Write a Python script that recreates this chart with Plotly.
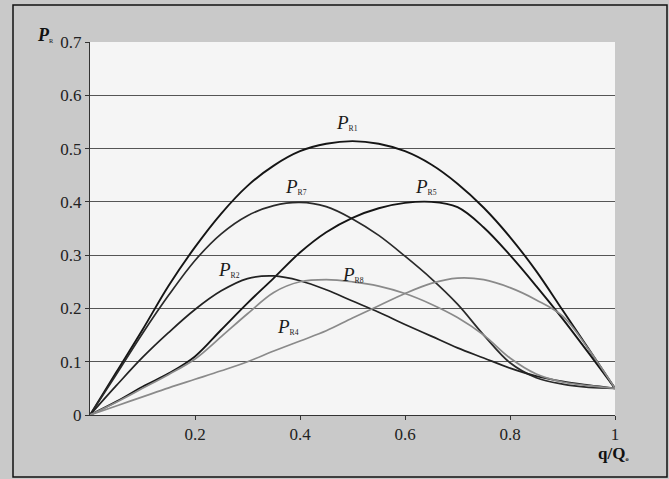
import plotly.graph_objects as go

q = [0.0, 0.05, 0.1, 0.15, 0.2, 0.25, 0.3, 0.35, 0.4, 0.45, 0.5, 0.55,
     0.6, 0.65, 0.7, 0.75, 0.8, 0.85, 0.9, 0.95, 1.0]

P_R1 = [0.0, 0.08, 0.16, 0.243, 0.315, 0.378, 0.43, 0.468, 0.495, 0.509, 0.514, 0.509,
        0.495, 0.47, 0.434, 0.389, 0.334, 0.27, 0.197, 0.124, 0.05]
P_R7 = [0.0, 0.076, 0.153, 0.225, 0.29, 0.34, 0.374, 0.393, 0.399, 0.391, 0.368, 0.337,
        0.298, 0.256, 0.208, 0.15, 0.098, 0.07, 0.058, 0.052, 0.05]
P_R5 = [0.0, 0.025, 0.053, 0.078, 0.11, 0.16, 0.21, 0.257, 0.305, 0.343, 0.37, 0.388,
        0.398, 0.4, 0.39, 0.352, 0.3, 0.242, 0.181, 0.116, 0.05]
P_R2 = [0.0, 0.055, 0.108, 0.155, 0.198, 0.233, 0.256, 0.261, 0.252, 0.235, 0.214, 0.193,
        0.17, 0.148, 0.126, 0.107, 0.088, 0.073, 0.063, 0.056, 0.05]
P_R8 = [0.0, 0.024, 0.05, 0.076, 0.105, 0.147, 0.19, 0.23, 0.25, 0.254, 0.25, 0.242,
        0.228, 0.208, 0.183, 0.15, 0.107, 0.077, 0.062, 0.055, 0.05]
P_R4 = [0.0, 0.017, 0.034, 0.051, 0.067, 0.083, 0.1, 0.12, 0.139, 0.158, 0.182, 0.205,
        0.228, 0.247, 0.257, 0.254, 0.239, 0.216, 0.186, 0.123, 0.05]

series = [("R1", P_R1, "#151515", 1.9), ("R7", P_R7, "#2a2a2a", 1.7),
          ("R5", P_R5, "#151515", 1.9), ("R2", P_R2, "#222222", 1.7),
          ("R8", P_R8, "#8a8a8a", 1.7), ("R4", P_R4, "#8a8a8a", 1.7)]

label_pos = {"R1": (0.49, 0.548), "R7": (0.392, 0.428), "R5": (0.64, 0.428),
             "R2": (0.265, 0.274), "R8": (0.5, 0.264), "R4": (0.377, 0.167)}

x_ticks = [0.2, 0.4, 0.6, 0.8, 1.0]
x_tick_text = ["0.2", "0.4", "0.6", "0.8", "1"]
y_ticks = [0, 0.1, 0.2, 0.3, 0.4, 0.5, 0.6, 0.7]
y_tick_text = ["0", "0.1", "0.2", "0.3", "0.4", "0.5", "0.6", "0.7"]

serif = "Liberation Serif, Times New Roman, serif"

fig = go.Figure()
for name, vals, col, w in series:
    fig.add_trace(go.Scatter(x=q, y=vals, mode="lines", name=name,
                             line=dict(color=col, width=w, shape="spline", smoothing=1.0),
                             showlegend=False, hoverinfo="skip"))

annotations = []
for name, (ax, ay) in label_pos.items():
    annotations.append(dict(
        x=ax, y=ay, xref="x", yref="y", showarrow=False,
        text='<i>P</i><span style="font-size:11px"><sub>%s</sub></span>' % name,
        font=dict(family=serif, size=19, color="#1a1a1a")))

annotations.append(dict(x=(35 - 90) / 525, y=(415 - 23) / 373, xref="paper", yref="paper",
                        showarrow=False,
                        text='<b><i>P</i></b><span style="font-size:9px"><sub>R</sub></span>',
                        font=dict(family=serif, size=18, color="#111111")))
annotations.append(dict(x=(631 - 90) / 525, y=(415 - 465) / 373, xref="paper", yref="paper",
                        showarrow=False,
                        text='<b>q/Q</b><span style="font-size:9px"><sub><b>o</b></sub></span>',
                        font=dict(family=serif, size=17, color="#111111")))

frame = dict(type="rect", xref="paper", yref="paper",
             x0=(13 - 90) / 525, x1=(667 - 90) / 525,
             y0=(415 - 477) / 373, y1=(415 - 5) / 373,
             line=dict(color="#111111", width=1.5), fillcolor="rgba(0,0,0,0)", layer="below")

fig.update_layout(
    width=669, height=479,
    margin=dict(l=90, r=54, t=42, b=64),
    paper_bgcolor="#c9c9c9",
    plot_bgcolor="#f5f5f5",
    annotations=annotations,
    shapes=[frame],
    xaxis=dict(range=[0, 1], tickvals=x_ticks, ticktext=x_tick_text,
               showgrid=False, zeroline=False, showline=True, linecolor="#333333",
               linewidth=1, ticks="outside", ticklen=4, tickcolor="#333333",
               tickfont=dict(family=serif, size=17, color="#222222")),
    yaxis=dict(range=[0, 0.7], tickvals=y_ticks, ticktext=y_tick_text,
               showgrid=True, gridcolor="#555555", gridwidth=1, zeroline=False,
               showline=True, linecolor="#333333", linewidth=1,
               ticks="outside", ticklen=4, tickcolor="#333333",
               tickfont=dict(family=serif, size=17, color="#222222")),
)

fig.write_html("out.html", config={"displayModeBar": False},
               post_script="document.body.style.margin='0';document.body.style.padding='0';")
